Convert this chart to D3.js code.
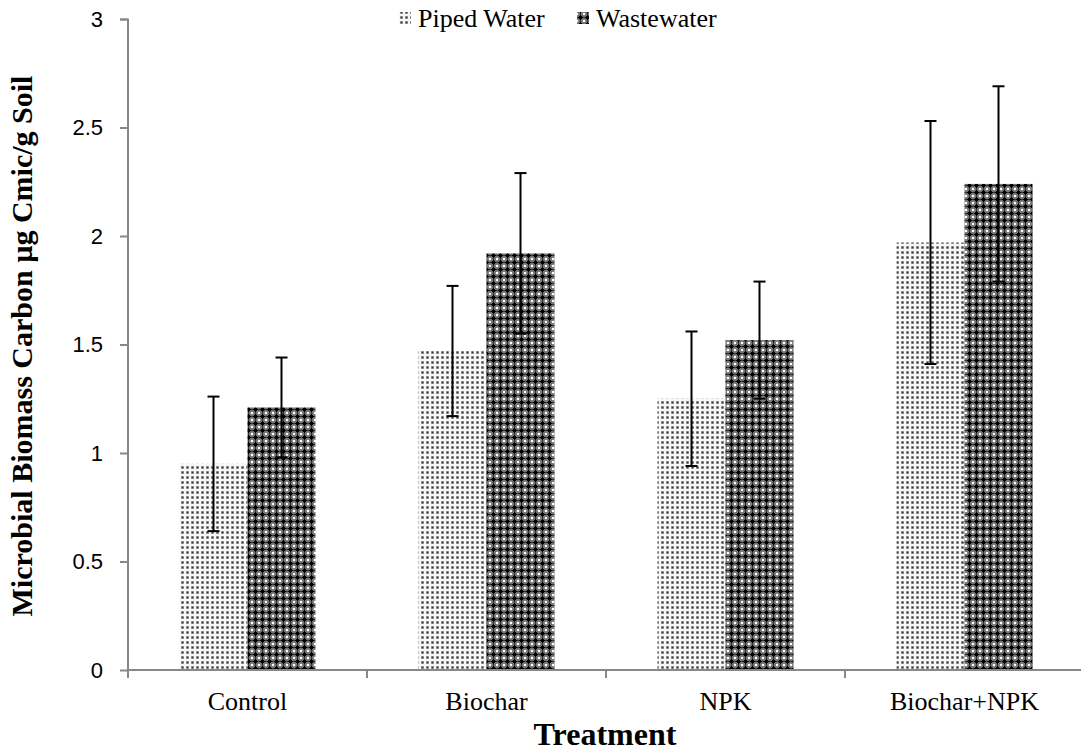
<!DOCTYPE html>
<html>
<head>
<meta charset="utf-8">
<script src="https://cdn.jsdelivr.net/npm/d3@7"></script>
<style>
  body { margin: 0; background: #fff; }
  svg { display: block; }
</style>
</head>
<body>
<svg width="1081" height="752"></svg>
<script>
(function () {

	var categories = ["Control", "Biochar", "NPK", "Biochar+NPK"];
	var seriesNames = ["Piped Water", "Wastewater"];
	var pipedValues = [0.95, 1.47, 1.25, 1.97];
	var pipedLow = [0.64, 1.17, 0.94, 1.41];
	var pipedHigh = [1.26, 1.77, 1.56, 2.53];
	var wasteValues = [1.21, 1.92, 1.52, 2.24];
	var wasteLow = [0.98, 1.55, 1.25, 1.79];
	var wasteHigh = [1.44, 2.29, 1.79, 2.69];
	var yTicks = [0, 0.5, 1, 1.5, 2, 2.5, 3];

	var rows = [];
	categories.forEach(function (c, i) {
		rows.push({ cat: c, series: seriesNames[0], value: pipedValues[i], lo: pipedLow[i], hi: pipedHigh[i] });
		rows.push({ cat: c, series: seriesNames[1], value: wasteValues[i], lo: wasteLow[i], hi: wasteHigh[i] });
	});

	var svg = d3.select("svg");
	var axisGray = "#888888";
	var serif = "'Liberation Serif', 'Times New Roman', serif";

	// patterns
	var defs = svg.append("defs");
	var p1 = defs.append("pattern")
		.attr("id", "pat-piped")
		.attr("patternUnits", "userSpaceOnUse")
		.attr("width", 5).attr("height", 5);
	p1.append("rect").attr("width", 5).attr("height", 5).attr("fill", "#f7f7f7");
	p1.append("rect").attr("x", 1).attr("y", 1).attr("width", 3).attr("height", 3).attr("fill", "#bcbcbc");
	p1.append("rect").attr("x", 1.5).attr("y", 1.5).attr("width", 2).attr("height", 2).attr("fill", "#3a3a3a");

	var p2 = defs.append("pattern")
		.attr("id", "pat-waste")
		.attr("patternUnits", "userSpaceOnUse")
		.attr("width", 7).attr("height", 7);
	p2.append("rect").attr("width", 7).attr("height", 7).attr("fill", "#707070");
	p2.append("rect").attr("x", 2).attr("y", 2).attr("width", 3).attr("height", 3).attr("fill", "#000");
	p2.append("rect").attr("x", 3).attr("y", 0.5).attr("width", 1).attr("height", 6).attr("fill", "#000");
	p2.append("rect").attr("x", 0.5).attr("y", 3).attr("width", 6).attr("height", 1).attr("fill", "#000");
	[[0, 0], [7, 0], [0, 7], [7, 7]].forEach(function (c) {
		p2.append("circle").attr("cx", c[0]).attr("cy", c[1]).attr("r", 1.3).attr("fill", "#ffffff");
	});

	var fills = { "Piped Water": "url(#pat-piped)", "Wastewater": "url(#pat-waste)" };

	var xScale = d3.scaleBand()
		.domain(categories)
		.range([128, 1084]);

	var xInner = d3.scaleBand()
		.domain(seriesNames)
		.range([51.5, 187.5]);

	var yScale = d3.scaleLinear()
		.domain([0, 3])
		.range([670, 19]);

	// y axis
	var yAxis = svg.append("g")
		.attr("transform", "translate(128,0)")
		.call(d3.axisLeft(yScale).tickValues(yTicks).tickSize(8).tickPadding(17)
			.tickFormat(function (d) { return d; }));
	yAxis.select(".domain").attr("stroke", axisGray).attr("stroke-width", 2).attr("d", "M-8,19.5H0V670");
	yAxis.selectAll(".tick line").attr("stroke", axisGray).attr("stroke-width", 2);
	yAxis.selectAll(".tick text")
		.attr("fill", "#000")
		.attr("font-family", "'Liberation Sans', Arial, sans-serif")
		.attr("font-size", 22);

	// bars
	svg.selectAll("rect.bar")
		.data(rows)
		.enter()
		.append("rect")
		.attr("class", "bar")
		.attr("x", function (d) { return xScale(d.cat) + xInner(d.series); })
		.attr("width", xInner.bandwidth())
		.attr("y", function (d) { return yScale(d.value); })
		.attr("height", function (d) { return yScale(0) - yScale(d.value); })
		.attr("fill", function (d) { return fills[d.series]; });

	// x axis
	var xAxis = svg.append("g")
		.attr("transform", "translate(0,670)")
		.call(d3.axisBottom(xScale).tickSize(0).tickPadding(22));
	xAxis.select(".domain").attr("stroke", axisGray).attr("stroke-width", 2).attr("d", "M128,0H1081");
	xAxis.selectAll(".tick text")
		.attr("fill", "#000")
		.attr("font-family", serif)
		.attr("font-size", 26);
	var bounds = categories.map(function (c) { return xScale(c); });
	xAxis.selectAll("line.sep")
		.data(bounds)
		.enter()
		.append("line")
		.attr("class", "sep")
		.attr("x1", function (d) { return d; })
		.attr("x2", function (d) { return d; })
		.attr("y1", 0)
		.attr("y2", 8)
		.attr("stroke", axisGray)
		.attr("stroke-width", 2);

	// error bars
	var eb = svg.selectAll("g.err")
		.data(rows)
		.enter()
		.append("g")
		.attr("class", "err")
		.attr("transform", function (d) {
			return "translate(" + (xScale(d.cat) + xInner(d.series) + xInner.bandwidth() / 2) + ",0)";
		});
	eb.append("line")
		.attr("y1", function (d) { return yScale(d.lo); })
		.attr("y2", function (d) { return yScale(d.hi); })
		.attr("stroke", "#000").attr("stroke-width", 2);
	eb.append("line")
		.attr("x1", -6).attr("x2", 6)
		.attr("y1", function (d) { return yScale(d.hi); })
		.attr("y2", function (d) { return yScale(d.hi); })
		.attr("stroke", "#000").attr("stroke-width", 2);
	eb.append("line")
		.attr("x1", -6).attr("x2", 6)
		.attr("y1", function (d) { return yScale(d.lo); })
		.attr("y2", function (d) { return yScale(d.lo); })
		.attr("stroke", "#000").attr("stroke-width", 2);

	// axis titles
	svg.append("text")
		.attr("transform", "translate(32,346) rotate(-90)")
		.attr("text-anchor", "middle")
		.attr("font-family", serif)
		.attr("font-weight", "bold")
		.attr("font-size", 30)
		.text("Microbial Biomass Carbon µg Cmic/g Soil");

	svg.append("text")
		.attr("x", 605)
		.attr("y", 745)
		.attr("text-anchor", "middle")
		.attr("font-family", serif)
		.attr("font-weight", "bold")
		.attr("font-size", 32)
		.text("Treatment");

	// legend
	var legendX = [399, 577];
	var legend = svg.selectAll("g.legend")
		.data(seriesNames)
		.enter()
		.append("g")
		.attr("class", "legend")
		.attr("transform", function (d, i) { return "translate(" + legendX[i] + ",0)"; });
	legend.append("rect")
		.attr("x", 0).attr("y", 12)
		.attr("width", 12).attr("height", 12)
		.attr("fill", function (d) { return fills[d]; });
	legend.append("text")
		.attr("x", 19).attr("y", 27)
		.attr("font-family", serif)
		.attr("font-size", 26)
		.text(function (d) { return d; });

})();
</script>
</body>
</html>
